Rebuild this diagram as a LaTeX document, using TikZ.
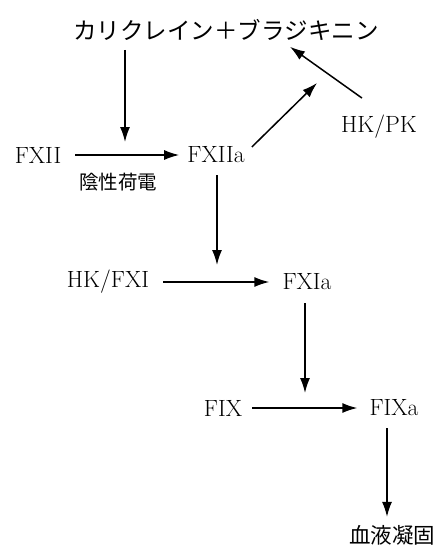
\documentclass[tikz,border=0pt]{standalone}
\usepackage{fontspec}
\newfontfamily\jp{Noto Sans CJK JP}
\usetikzlibrary{arrows.meta,calc}
\tikzset{
  lbl/.style={inner sep=0pt, font=\fontsize{23.5}{26}\selectfont},
  jlbl/.style={inner sep=0pt, font=\jp\fontsize{23.5}{26}\selectfont},
  arr/.style={line width=1.5pt, -{Latex[length=15pt,width=10pt]}}
}
\begin{document}
\begin{tikzpicture}[x=1pt,y=-1pt]
\useasboundingbox (0,0) rectangle (437,549);
\node[jlbl] (top) at (226,30) {カリクレイン＋ブラジキニン};
\node[lbl] (FXII) at (38,155) {FXII};
\node[lbl] (FXIIa) at (216,155) {FXIIa};
\node[jlbl, font=\jp\fontsize{19.5}{22}\selectfont] (neg) at (118,182) {陰性荷電};
\node[lbl] (HKPK) at (379,127) {HK/PK};
\node[lbl] (HKFXI) at (108,282) {HK/FXI};
\node[lbl] (FXIa) at (307,282) {FXIa};
\node[lbl] (FIX) at (223,408) {FIX};
\node[lbl] (FIXa) at (394,408) {FIXa};
\node[jlbl, font=\jp\fontsize{21.5}{24}\selectfont] (blood) at (392,535) {血液凝固};
\coordinate (j0) at (317,83);
\coordinate (j1) at (125,142);
\coordinate (j2) at (217,265);
\coordinate (j3) at (305,393);
% arrows
\draw[arr] ($(top.south -| j1)+(0,9)$) -- (j1);
\draw[arr] ($(FXII.east)+(14,0)$) -- ($(FXIIa.west)+(-8,0)$);
\draw[arr] ($(FXIIa.east)+(7,-8)$) -- (j0);
\draw[arr] ($(HKPK.north)+(-17,-17)$) -- ($(top.south)+(64,6)$);
\draw[arr] ($(FXIIa.south -| j2)+(0,12)$) -- (j2);
\draw[arr] ($(HKFXI.east)+(14,0)$) -- ($(FXIa.west)+(-13,0)$);
\draw[arr] ($(FXIa.south -| j3)+(0,13)$) -- (j3);
\draw[arr] ($(FIX.east)+(10,0)$) -- ($(FIXa.west)+(-12,0)$);
\draw[arr] ($(FIXa.south)+(-7,12)$) -- ($(blood.north)+(-5,-8)$);
\end{tikzpicture}
\end{document}
